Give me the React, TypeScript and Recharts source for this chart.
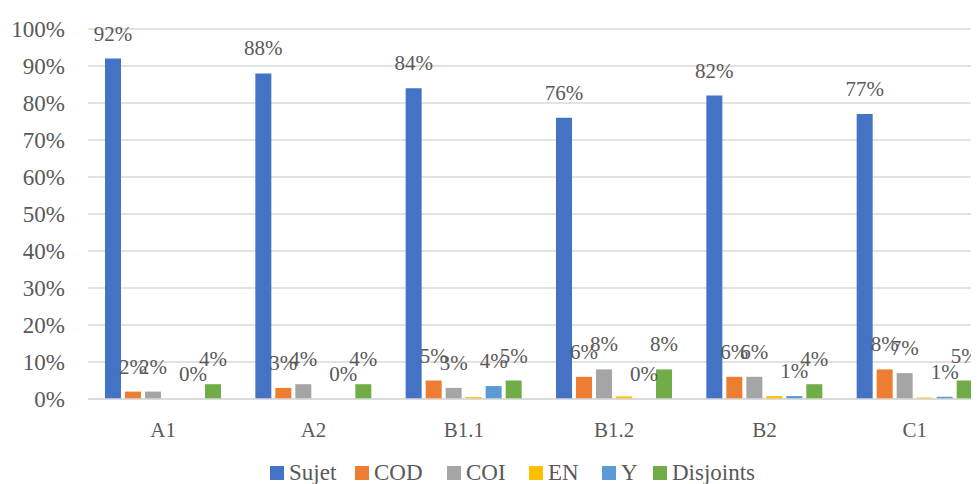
import React from 'react';
import { BarChart, Bar, XAxis, YAxis, CartesianGrid, LabelList } from 'recharts';

const categories = ['A1', 'A2', 'B1.1', 'B1.2', 'B2', 'C1'];
const sujet = [92, 88, 84, 76, 82, 77];
const cod = [2, 3, 5, 6, 6, 8];
const coi = [2, 4, 3, 8, 6, 7];
const en = [0, 0, 0.5, 0.7, 0.8, 0.4];
const yVals = [0, 0, 3.5, 0, 0.8, 0.6];
const disjoints = [4, 4, 5, 8, 4, 5];
const yTicks = [0, 10, 20, 30, 40, 50, 60, 70, 80, 90, 100];

const series = [
  { key: 'Sujet', values: sujet, color: '#4472C4', label: true, legendWidth: 85 },
  { key: 'COD', values: cod, color: '#ED7D31', label: true, legendWidth: 92 },
  { key: 'COI', values: coi, color: '#A5A5A5', label: true, legendWidth: 82 },
  { key: 'EN', values: en, color: '#FFC000', label: false, legendWidth: 73 },
  { key: 'Y', values: yVals, color: '#5B9BD5', label: true, legendWidth: 51 },
  { key: 'Disjoints', values: disjoints, color: '#70AD47', label: true, legendWidth: 130 },
];

const data = categories.map((c, i) => {
  const row: any = { name: c };
  series.forEach((s) => {
    row[s.key] = s.values[i];
  });
  return row;
});

const FONT = '"Liberation Serif", "Times New Roman", serif';
const TEXT = '#595959';

export default function App() {
  return (
    <div style={{ position: 'relative', width: 971, height: 476, overflow: 'hidden', fontFamily: FONT }}>
      <BarChart
        width={990}
        height={476}
        data={data}
        margin={{ top: 21, right: 8, bottom: 45, left: 0 }}
        barSize={16}
        barGap={4}
      >
        <CartesianGrid vertical={false} stroke="#D9D9D9" strokeWidth={1.5} />
        <XAxis
          dataKey="name"
          height={40}
          tickLine={false}
          axisLine={{ stroke: '#D9D9D9', strokeWidth: 1.5 }}
          tick={{ fill: TEXT, fontSize: 21, fontFamily: FONT }}
          tickMargin={17}
        />
        <YAxis
          width={80}
          domain={[0, 100]}
          ticks={yTicks}
          interval={0}
          tickFormatter={(v: number) => `${v}%`}
          axisLine={false}
          tickLine={false}
          tickMargin={17}
          tick={{ fill: TEXT, fontSize: 23, fontFamily: FONT }}
        />
        {series.map((s) => (
          <Bar
            key={s.key}
            dataKey={s.key}
            fill={s.color}
            isAnimationActive={false}
            minPointSize={s.key === 'Y' ? 0.01 : 0}
          >
            {s.label && (
              <LabelList
                dataKey={s.key}
                position="top"
                offset={18}
                formatter={(v: any) => `${Math.round(Number(v))}%`}
                style={{ fill: TEXT, fontSize: 21, fontFamily: FONT }}
              />
            )}
          </Bar>
        ))}
      </BarChart>
      <div
        style={{
          position: 'absolute',
          left: 262,
          top: 456,
          display: 'flex',
          alignItems: 'center',
          whiteSpace: 'nowrap',
          color: TEXT,
          fontSize: 23,
          fontFamily: FONT,
          lineHeight: '17px',
        }}
      >
        {series.map((s) => (
          <div key={s.key} style={{ display: 'flex', alignItems: 'center', width: s.legendWidth }}>
            <span style={{ display: 'inline-block', width: 14, height: 14, background: s.color, marginRight: 5 }} />
            <span>{s.key}</span>
          </div>
        ))}
      </div>
    </div>
  );
}
